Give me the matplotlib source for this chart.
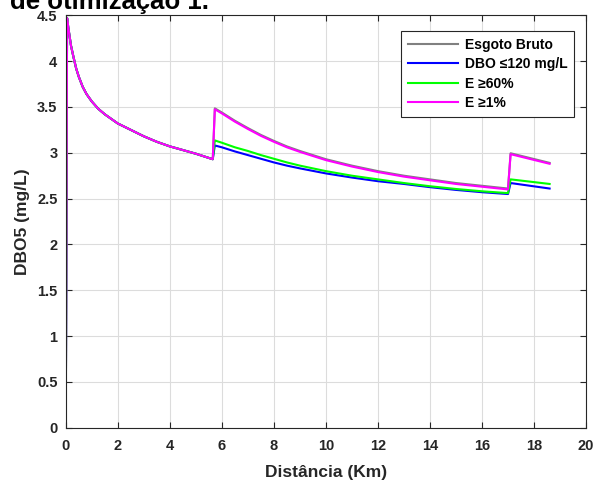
import matplotlib
matplotlib.use("Agg")
import matplotlib.pyplot as plt

plt.rcParams["font.family"] = ["Liberation Sans", "DejaVu Sans"]
plt.rcParams["font.weight"] = "bold"

# trecho 1 (igual para todos os cenarios)
x1 = [0.0, 0.05, 0.1, 0.2, 0.3, 0.4, 0.5, 0.65, 0.8, 1.0, 1.25, 1.5, 1.75, 2.0,
      2.5, 3.0, 3.5, 4.0, 4.5, 5.0, 5.65]
y1 = [0.0, 4.47, 4.36, 4.17, 4.04, 3.92, 3.83, 3.72, 3.64, 3.56, 3.48, 3.42, 3.37, 3.32,
      3.25, 3.18, 3.12, 3.07, 3.03, 2.99, 2.93]

# trecho 2
x2 = [5.73, 6.0, 6.5, 7.0, 7.5, 8.0, 8.5, 9.0, 10.0, 11.0, 12.0, 13.0, 14.0, 15.0, 16.0, 17.0]
bruto2 = [3.485, 3.44, 3.35, 3.27, 3.195, 3.13, 3.07, 3.02, 2.93, 2.86, 2.80, 2.75,
          2.71, 2.67, 2.64, 2.61]
dbo2 = [3.08, 3.06, 3.015, 2.975, 2.935, 2.895, 2.86, 2.83, 2.775, 2.73, 2.69, 2.66,
        2.625, 2.595, 2.57, 2.55]
e60_2 = [3.135, 3.11, 3.06, 3.02, 2.975, 2.935, 2.895, 2.86, 2.80, 2.75, 2.71, 2.67,
         2.635, 2.605, 2.58, 2.56]
e1_2 = [3.475, 3.43, 3.34, 3.26, 3.185, 3.12, 3.06, 3.01, 2.92, 2.85, 2.79, 2.74,
        2.70, 2.66, 2.63, 2.60]

# trecho 3
x3 = [17.1, 18.6]
bruto3 = [2.995, 2.89]
dbo3 = [2.67, 2.61]
e60_3 = [2.71, 2.66]
e1_3 = [2.985, 2.88]

series = [
    ("Esgoto Bruto", bruto2, bruto3, (0.5, 0.5, 0.5)),
    ("DBO \u2264120 mg/L", dbo2, dbo3, (0, 0, 1)),
    ("E \u226560%", e60_2, e60_3, (0, 1, 0)),
    ("E \u22651%", e1_2, e1_3, (1, 0, 1)),
]

fig = plt.figure(figsize=(5.98, 4.8), dpi=100)
ax = fig.add_axes([0.110, 0.109, 0.870, 0.859])

for label, s2, s3, color in series:
    ax.plot(x1 + x2 + x3, y1 + s2 + s3, color=color, lw=1.5, label=label)

ax.set_xlim(0, 20)
ax.set_ylim(0, 4.5)
ax.set_xticks(range(0, 21, 2))
ax.set_yticks([0, 0.5, 1, 1.5, 2, 2.5, 3, 3.5, 4, 4.5])
ax.set_yticklabels(["0", "0.5", "1", "1.5", "2", "2.5", "3", "3.5", "4", "4.5"])
ax.grid(True, color="#dcdcdc", lw=0.8)
ax.tick_params(direction="in", top=True, right=True, length=4, width=0.8,
               labelsize=10.5, colors="#262626")
ax.tick_params(axis="x", pad=8)
ax.tick_params(axis="y", pad=6)
for t in ax.get_xticklabels() + ax.get_yticklabels():
    t.set_fontweight("bold")
for sp in ax.spines.values():
    sp.set_color("#262626")
    sp.set_linewidth(0.8)

ax.set_xlabel("Dist\u00e2ncia (Km)", fontsize=12.5, fontweight="bold", color="#262626",
              labelpad=9)
ax.set_ylabel("DBO5 (mg/L)", fontsize=12.5, fontweight="bold", color="#262626",
              labelpad=5)

leg = ax.legend(loc="upper right", bbox_to_anchor=(0.977, 0.962), borderaxespad=0,
                fontsize=10, fancybox=False, framealpha=1, edgecolor="#262626",
                handlelength=3.6, handletextpad=0.45, borderpad=0.5, labelspacing=0.38)
leg.get_frame().set_linewidth(0.8)

fig.text(0.017, 1 - 9 / 480, "de otimiza\u00e7\u00e3o 1.", fontsize=18.5, fontweight="bold",
         va="baseline")

fig.savefig("out.png", dpi=100)
